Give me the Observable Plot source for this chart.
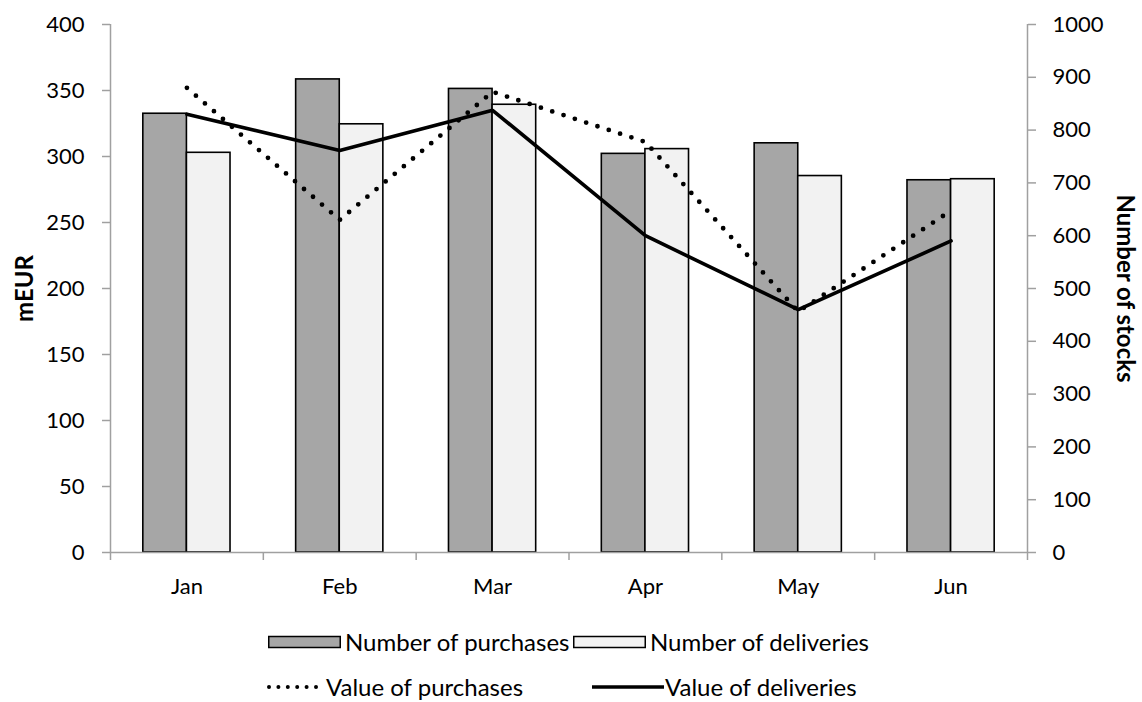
<!DOCTYPE html>
<html>
<head>
<meta charset="utf-8">
<script src="https://cdn.jsdelivr.net/npm/d3@7"></script>
<script src="https://cdn.jsdelivr.net/npm/@observablehq/plot@0.6"></script>
<style>
  html, body { margin: 0; padding: 0; background: #fff; }
  body { font-family: Lato, "Open Sans", sans-serif; width: 1142px; height: 702px; overflow: hidden; }
  #legend { position: relative; height: 87px; font-size: 24px; color: #000; }
  .sw, .lbl { position: absolute; display: block; white-space: nowrap; }
  .lbl { line-height: 24px; }
</style>
</head>
<body>
<div id="chart"></div>
<div id="legend"></div>
<script>
const months = ["Jan", "Feb", "Mar", "Apr", "May", "Jun"];
const numberOfPurchases = [831, 896, 878, 755, 775, 705];
const numberOfDeliveries = [757, 811, 848, 764, 713, 707];
const valueOfPurchases = [352, 252, 349, 311, 182.5, 259];
const valueOfDeliveries = [332, 304.5, 335, 240, 184, 236];
const leftTicks = [0, 50, 100, 150, 200, 250, 300, 350, 400];
const rightTicks = [0, 100, 200, 300, 400, 500, 600, 700, 800, 900, 1000];
const seriesNames = ["Number of purchases", "Number of deliveries", "Value of purchases", "Value of deliveries"];

const ratio = rightTicks[rightTicks.length - 1] / leftTicks[leftTicks.length - 1]; // 2.5

const W = 1142, H = 615;
const mL = 110, mR = 115, mT = 24, mB = 63;
const bw = (W - mL - mR) / months.length;
const barW = 43.6;
const font = "Lato, 'Open Sans', sans-serif";
const axisGray = "#a0a0a0";
const tickPx = 8;
const yPerPx = (leftTicks[leftTicks.length - 1]) / (H - mT - mB);

const bars = months.map((m, i) => ({month: m, purchases: numberOfPurchases[i], deliveries: numberOfDeliveries[i]}));
const lines = months.map((m, i) => ({month: m, vp: valueOfPurchases[i], vd: valueOfDeliveries[i]}));

const chart = Plot.plot({
  width: W,
  height: H,
  marginLeft: mL,
  marginRight: mR,
  marginTop: mT,
  marginBottom: mB,
  style: {fontFamily: font, fontSize: "22px", color: "#000", background: "#fff", overflow: "visible"},
  x: {type: "band", domain: months, padding: 0, round: false, axis: null},
  y: {domain: [0, leftTicks[leftTicks.length - 1]], axis: null},
  marks: [
    Plot.barY(bars, {x: "month", y: d => d.purchases / ratio, fill: "#a6a6a6", stroke: "#000", strokeWidth: 1.6,
      insetLeft: bw / 2 - barW, insetRight: bw / 2}),
    Plot.barY(bars, {x: "month", y: d => d.deliveries / ratio, fill: "#f2f2f2", stroke: "#000", strokeWidth: 1.6,
      insetLeft: bw / 2, insetRight: bw / 2 - barW}),
    Plot.ruleY([0], {stroke: axisGray, strokeWidth: 1.5}),
    Plot.ruleX([months[0]], {x: d => d, dx: -bw / 2, y1: 0, y2: leftTicks[leftTicks.length - 1], stroke: axisGray, strokeWidth: 1.5}),
    Plot.ruleX([months[months.length - 1]], {x: d => d, dx: bw / 2, y1: 0, y2: leftTicks[leftTicks.length - 1], stroke: axisGray, strokeWidth: 1.5}),
    Plot.ruleX(months, {x: d => d, dx: -bw / 2, y1: 0, y2: -tickPx * yPerPx, stroke: axisGray, strokeWidth: 1.5}),
    Plot.ruleX([months[months.length - 1]], {x: d => d, dx: bw / 2, y1: 0, y2: -tickPx * yPerPx, stroke: axisGray, strokeWidth: 1.5}),
    Plot.line(lines, {x: "month", y: "vd", stroke: "#000", strokeWidth: 3.6, strokeLinejoin: "miter"}),
    Plot.line(lines, {x: "month", y: "vp", stroke: "#000", strokeWidth: 4.8, strokeDasharray: "0 11.9", strokeLinecap: "round"}),
    Plot.axisY(leftTicks, {anchor: "left", tickSize: tickPx, tickPadding: 18, stroke: axisGray, strokeWidth: 1.5, fill: "#000", fontSize: 22, label: null}),
    Plot.axisY(rightTicks.map(d => d / ratio), {anchor: "right", tickSize: tickPx, tickPadding: 17, stroke: axisGray, strokeWidth: 1.5, fill: "#000", fontSize: 22, label: null,
      tickFormat: v => String(Math.round(v * ratio))}),
    Plot.axisX({anchor: "bottom", tickSize: 0, tickPadding: 26, fill: "#000", fontSize: 22, label: null}),
    Plot.text(["mEUR"], {frameAnchor: "left", textAnchor: "middle", lineAnchor: "middle", dx: -85, rotate: -90, fontWeight: "bold", fontSize: 24, fill: "#000"}),
    Plot.text(["Number of stocks"], {frameAnchor: "right", textAnchor: "middle", lineAnchor: "middle", dx: 97, rotate: 90, fontWeight: "bold", fontSize: 24, fill: "#000"})
  ]
});
document.getElementById("chart").appendChild(chart);

// Legend (positions are layout only)
const legend = document.getElementById("legend");
const legendItems = [
  {name: seriesNames[0], kind: "rect", fill: "#a6a6a6", swLeft: 268, swW: 73, textLeft: 345, cy: 27},
  {name: seriesNames[1], kind: "rect", fill: "#f2f2f2", swLeft: 573, swW: 73, textLeft: 650, cy: 27},
  {name: seriesNames[2], kind: "dots", swLeft: 266, swW: 53, textLeft: 326, cy: 72},
  {name: seriesNames[3], kind: "solid", swLeft: 592, swW: 72, textLeft: 665, cy: 72}
];
legendItems.forEach(it => {
  const sw = document.createElement("div");
  sw.className = "sw";
  sw.style.left = it.swLeft + "px";
  sw.style.top = (it.cy - 7) + "px";
  let inner;
  if (it.kind === "rect") {
    inner = `<rect x="0.75" y="1.5" width="${it.swW - 1.5}" height="11" fill="${it.fill}" stroke="#000" stroke-width="1.5"/>`;
  } else if (it.kind === "dots") {
    inner = `<line x1="3" y1="7" x2="${it.swW - 3}" y2="7" stroke="#000" stroke-width="4" stroke-linecap="round" stroke-dasharray="0 9.4"/>`;
  } else {
    inner = `<line x1="0" y1="7" x2="${it.swW}" y2="7" stroke="#000" stroke-width="3.6"/>`;
  }
  sw.innerHTML = `<svg width="${it.swW}" height="14" style="display:block">${inner}</svg>`;
  legend.appendChild(sw);
  const t = document.createElement("div");
  t.className = "lbl";
  t.style.left = it.textLeft + "px";
  t.style.top = (it.cy - 12) + "px";
  t.textContent = it.name;
  legend.appendChild(t);
});
</script>
</body>
</html>
